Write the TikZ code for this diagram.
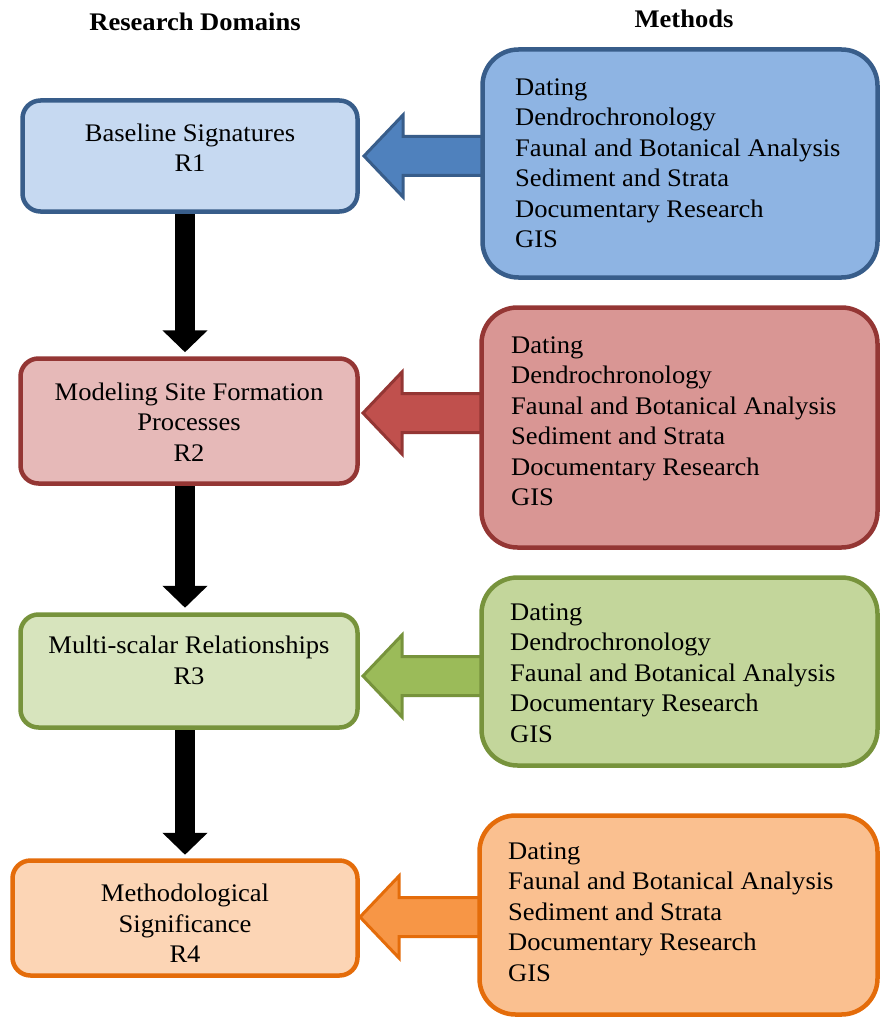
\documentclass[tikz,border=0pt]{standalone}
\usepackage{fontspec}
\setmainfont{Liberation Serif}[FakeStretch=1.05]
\usetikzlibrary{arrows.meta,backgrounds}

\definecolor{bdBlue}{HTML}{385D8A}
\definecolor{lfBlue}{HTML}{C6D9F1}
\definecolor{mfBlue}{HTML}{8EB4E3}
\definecolor{arBlue}{HTML}{4F81BD}
\definecolor{bdRed}{HTML}{943634}
\definecolor{lfRed}{HTML}{E6B9B8}
\definecolor{mfRed}{HTML}{D99694}
\definecolor{arRed}{HTML}{C0504D}
\definecolor{bdGreen}{HTML}{77933C}
\definecolor{lfGreen}{HTML}{D7E4BD}
\definecolor{mfGreen}{HTML}{C3D69B}
\definecolor{arGreen}{HTML}{9BBB59}
\definecolor{bdOrange}{HTML}{E46C0A}
\definecolor{lfOrange}{HTML}{FCD5B5}
\definecolor{mfOrange}{HTML}{FAC090}
\definecolor{arOrange}{HTML}{F79646}

\newcommand\boxfont{\fontsize{25.3}{30.5}\selectfont}
% zero-width strut fixing the first baseline 20pt below the text node's top
\newcommand\fl{\rule{0pt}{20pt}}

% block arrow pointing left: #1 colours, #2 tip, #3 point on the source box edge
\newcommand\feedarrow[3]{%
  \draw[feed,#1] (#2) -- ++(39,-41) -- ++(0,21.5)
    -- ([xshift=10pt,yshift=19.5pt]#3) -- ([xshift=10pt,yshift=-19.5pt]#3)
    -- ([xshift=39pt,yshift=-19.5pt]#2) -- ++(0,21.5) -- cycle;}

\begin{document}
\begin{tikzpicture}[x=1pt,y=-1pt,
  every node/.style={inner sep=0pt},
  domainbox/.style={rectangle, rounded corners=18pt, line width=4.5pt},
  methodbox/.style={rectangle, rounded corners=36pt, line width=4.5pt},
  dtext/.style={font=\boxfont, align=center, anchor=north},
  mtext/.style={font=\boxfont, align=left, anchor=north west},
  heading/.style={font=\boxfont\bfseries, anchor=base},
  flow/.style={line width=20pt, black, -{Triangle[width=44pt,length=22pt]}},
  feed/.style={line width=3pt, line join=miter}]
\useasboundingbox (0,0) rectangle (881,1019);

% column headings
\node[heading] (hdomains) at (195,31) {Research Domains};
\node[heading] (hmethods) at (684,28) {Methods};

% research domain boxes
\node[domainbox, draw=bdBlue, fill=lfBlue, minimum width=335pt, minimum height=111pt] (r1) at (190,156) {};
\node[domainbox, draw=bdRed, fill=lfRed, minimum width=337pt, minimum height=125pt] (r2) at (189,421) {};
\node[domainbox, draw=bdGreen, fill=lfGreen, minimum width=337pt, minimum height=113pt] (r3) at (189,671) {};
\node[domainbox, draw=bdOrange, fill=lfOrange, minimum width=345pt, minimum height=115pt] (r4) at (185,918) {};

\node[dtext] (r1t) at (190,121) {\fl Baseline Signatures\\R1};
\node[dtext] (r2t) at (189,380) {\fl Modeling Site Formation\\Processes\\R2};
\node[dtext] (r3t) at (189,633.5) {\fl Multi-scalar Relationships\\R3};
\node[dtext] (r4t) at (185,881.5) {\fl Methodological\\Significance\\R4};

% method boxes
\node[methodbox, draw=bdBlue, fill=mfBlue, minimum width=395pt, minimum height=228pt] (m1) at (680,163.5) {};
\node[methodbox, draw=bdRed, fill=mfRed, minimum width=396pt, minimum height=240pt] (m2) at (679.5,427.5) {};
\node[methodbox, draw=bdGreen, fill=mfGreen, minimum width=396pt, minimum height=188pt] (m3) at (679.5,671.5) {};
\node[methodbox, draw=bdOrange, fill=mfOrange, minimum width=398pt, minimum height=199pt] (m4) at (678.5,915) {};

\node[mtext] (m1t) at (515,75) {\fl Dating\\Dendrochronology\\Faunal and Botanical Analysis\\Sediment and Strata\\Documentary Research\\GIS};
\node[mtext] (m2t) at (511,333) {\fl Dating\\Dendrochronology\\Faunal and Botanical Analysis\\Sediment and Strata\\Documentary Research\\GIS};
\node[mtext] (m3t) at (510,600) {\fl Dating\\Dendrochronology\\Faunal and Botanical Analysis\\Documentary Research\\GIS};
\node[mtext] (m4t) at (508,839) {\fl Dating\\Faunal and Botanical Analysis\\Sediment and Strata\\Documentary Research\\GIS};

% connectors, kept behind the boxes
\begin{scope}[on background layer]
  % vertical flow arrows on a common axis
  \coordinate (d1) at ([xshift=-5pt]r1.south);
  \coordinate (d2) at ([xshift=-4pt]r2.south);
  \coordinate (d3) at ([xshift=-4pt]r3.south);
  \draw[flow, shorten >=4pt] (d1) -- (d1 |- r2.north);
  \draw[flow, shorten >=4.5pt] (d2) -- (d2 |- r3.north);
  \draw[flow, shorten >=3.5pt] (d3) -- (d3 |- r4.north);

  \coordinate (a1) at (364,156);
  \coordinate (a2) at (363,413);
  \coordinate (a3) at (363,676);
  \coordinate (a4) at (360,917);
  \coordinate (a1e) at (a1 -| m1.west);
  \coordinate (a2e) at (a2 -| m2.west);
  \coordinate (a3e) at (a3 -| m3.west);
  \coordinate (a4e) at (a4 -| m4.west);
  \feedarrow{draw=bdBlue, fill=arBlue}{a1}{a1e}
  \feedarrow{draw=bdRed, fill=arRed}{a2}{a2e}
  \feedarrow{draw=bdGreen, fill=arGreen}{a3}{a3e}
  \feedarrow{draw=bdOrange, fill=arOrange}{a4}{a4e}
\end{scope}
\end{tikzpicture}
\end{document}
